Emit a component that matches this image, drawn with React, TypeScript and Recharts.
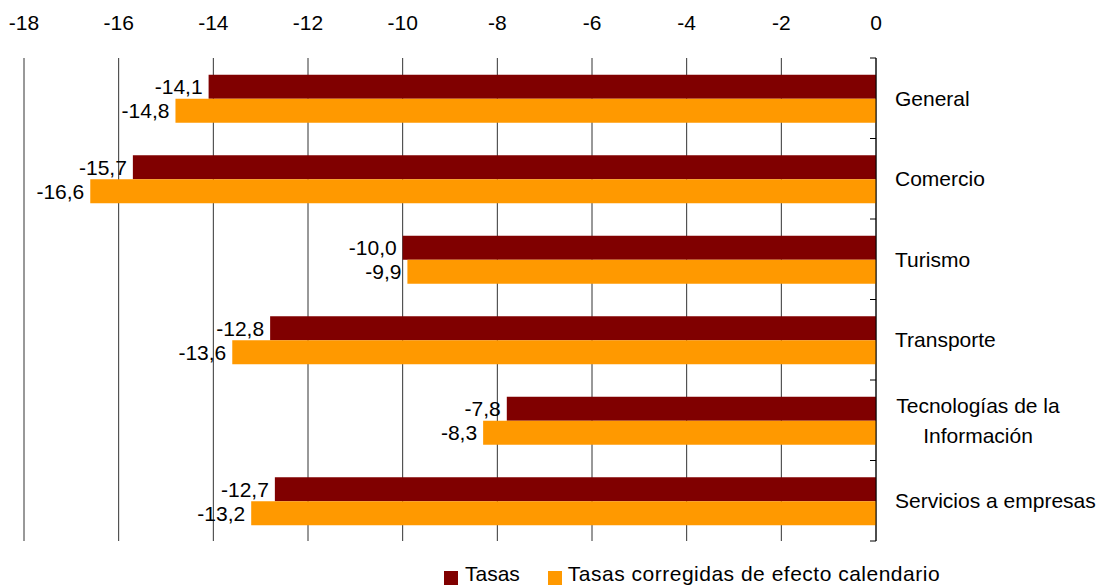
import { BarChart, Bar, XAxis, YAxis, CartesianGrid, Legend, LabelList } from 'recharts';

const categories = [
  'General',
  'Comercio',
  'Turismo',
  'Transporte',
  'Tecnologías de la Información',
  'Servicios a empresas',
];
const tasas = [-14.1, -15.7, -10.0, -12.8, -7.8, -12.7];
const tasasCorregidas = [-14.8, -16.6, -9.9, -13.6, -8.3, -13.2];
const xTicks = [-18, -16, -14, -12, -10, -8, -6, -4, -2, 0];

const data = categories.map((name, i) => ({
  name,
  tasas: tasas[i],
  corregidas: tasasCorregidas[i],
}));

const DARK = '#800000';
const ORANGE = '#ff9900';
const FONT = '"Liberation Sans", Arial, sans-serif';

const fmt = (v: number) => v.toFixed(1).replace('.', ',');

const wrapLabel = (label: string) => {
  if (label.length <= 20) return [label];
  const cut = label.lastIndexOf(' ', 18);
  return [label.slice(0, cut), label.slice(cut + 1)];
};

// category label plus the small inward tick marks at the band boundaries
const CategoryTick = (props: any) => {
  const { x, y, payload, index } = props;
  const half = payload.offset || 0;
  const lines = wrapLabel(payload.value);
  const isLast = index === categories.length - 1;
  return (
    <g>
      <line x1={x - 6} x2={x} y1={y - half} y2={y - half} stroke="#000" />
      {isLast && <line x1={x - 6} x2={x} y1={y + half} y2={y + half} stroke="#000" />}
      {lines.length === 1 ? (
        <text x={x + 19} y={y} dy="0.35em" textAnchor="start" fontSize={21} fill="#000" fontFamily={FONT}>
          {lines[0]}
        </text>
      ) : (
        <text x={x + 102} y={y - 15} textAnchor="middle" fontSize={21} fill="#000" fontFamily={FONT}>
          {lines.map((l, i) => (
            <tspan key={i} x={x + 102} dy={i === 0 ? '0.35em' : 30}>
              {l}
            </tspan>
          ))}
        </text>
      )}
    </g>
  );
};

const LegendContent = () => (
  <div style={{ display: 'flex', alignItems: 'center', fontFamily: FONT, fontSize: 21, lineHeight: '24px', color: '#000' }}>
    <span style={{ width: 14, height: 14, background: DARK, display: 'inline-block', marginRight: 7, marginTop: 7 }} />
    <span style={{ marginRight: 28 }}>Tasas</span>
    <span style={{ width: 14, height: 14, background: ORANGE, display: 'inline-block', marginRight: 6, marginTop: 7 }} />
    <span style={{ letterSpacing: 0.5 }}>Tasas corregidas de efecto calendario</span>
  </div>
);

export default function App() {
  return (
    <div style={{ position: 'absolute', left: 0, top: 0, width: 1106, height: 586, background: '#fff', fontFamily: FONT }}>
      <BarChart
        width={1106}
        height={586}
        data={data}
        layout="vertical"
        margin={{ top: 28, right: 0, left: 24, bottom: 45 }}
        barCategoryGap="20.8%"
        barGap={0}
      >
        <CartesianGrid horizontal={false} stroke="#333" strokeWidth={1} />
        <XAxis
          type="number"
          orientation="top"
          domain={[-18, 0]}
          ticks={xTicks}
          interval={0}
          height={30}
          axisLine={false}
          tickLine={false}
          tickSize={0}
          tickMargin={28}
          tick={{ fontSize: 21, fill: '#000', fontFamily: FONT }}
        />
        <YAxis
          type="category"
          dataKey="name"
          orientation="right"
          width={230}
          axisLine={{ stroke: '#000', strokeWidth: 1 }}
          tickLine={false}
          tickSize={0}
          tickMargin={0}
          interval={0}
          tick={<CategoryTick />}
        />
        <Legend
          layout="horizontal"
          verticalAlign="middle"
          align="center"
          content={<LegendContent />}
          wrapperStyle={{ position: 'absolute', left: 444, top: 562, width: 640, height: 24 }}
        />
        <Bar dataKey="tasas" name="Tasas" fill={DARK} isAnimationActive={false}>
          <LabelList dataKey="tasas" position="right" offset={6} formatter={(v: any) => fmt(Number(v))} style={{ fontSize: 21, fill: '#000', fontFamily: FONT }} />
        </Bar>
        <Bar dataKey="corregidas" name="Tasas corregidas de efecto calendario" fill={ORANGE} isAnimationActive={false}>
          <LabelList dataKey="corregidas" position="right" offset={6} formatter={(v: any) => fmt(Number(v))} style={{ fontSize: 21, fill: '#000', fontFamily: FONT }} />
        </Bar>
      </BarChart>
    </div>
  );
}
